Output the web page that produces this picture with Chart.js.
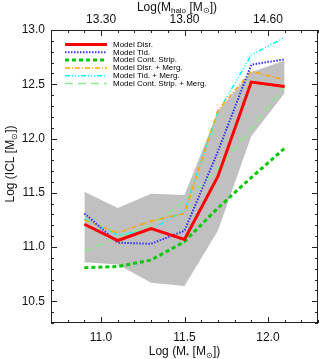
<!DOCTYPE html>
<html lang="en">
<head>
    <meta charset="UTF-8">
    <title>ICL vs stellar mass</title>
    <script src="https://cdn.jsdelivr.net/npm/chart.js"></script>
    <style>
        html, body { margin: 0; padding: 0; background: #fff; }
        #chart { display: block; }
    </style>
</head>
<body>
    <canvas id="chart" width="319" height="359"></canvas>

    <script>
        // values
        const massBins = [10.9, 11.1, 11.3, 11.5, 11.7, 11.9, 12.1];
        const bandUpper = [11.51, 11.36, 11.49, 11.48, 12.25, 12.61, 12.72];
        const bandLower = [10.86, 10.84, 10.67, 10.64, 11.15, 12.02, 12.42];
        const modelDisr = [11.21, 11.06, 11.17, 11.07, 11.65, 12.52, 12.48];
        const modelTid = [11.31, 11.04, 11.03, 11.15, 11.88, 12.68, 12.73];
        const modelContStrip = [10.81, 10.82, 10.88, 11.05, 11.36, 11.64, 11.91];
        const modelDisrMerg = [11.25, 11.13, 11.24, 11.31, 12.26, 12.62, 12.54];
        const modelTidMerg = [11.26, 11.11, 11.16, 11.34, 12.24, 12.77, 12.93];
        const modelContStripMerg = [10.96, 11.09, 11.20, 11.42, 11.72, 12.09, 12.48];

        const xTicks = [11.0, 11.5, 12.0];
        const topTickLabels = ['13.30', '13.80', '14.60'];
        const yTicks = [10.5, 11.0, 11.5, 12.0, 12.5, 13.0];

        const FONT = '"Liberation Sans", Arial, sans-serif';

        function pts(values) {
            return massBins.map((x, i) => ({ x: x, y: values[i] }));
        }

        function line(label, values, color, width, dash) {
            return {
                label: label,
                data: pts(values),
                borderColor: color,
                borderWidth: width,
                borderDash: dash,
                pointRadius: 0,
                tension: 0,
                fill: false,
                order: 1
            };
        }

        // draws text pieces, some of them as subscripts
        function drawRich(ctx, parts, x, y, size) {
            const subSize = Math.round(size * 0.7);
            let total = 0;
            parts.forEach(p => {
                ctx.font = (p.sub ? subSize : size) + 'px ' + FONT;
                p.w = ctx.measureText(p.t).width;
                total += p.w;
            });
            let cx = x - total / 2;
            ctx.textAlign = 'left';
            ctx.textBaseline = 'middle';
            parts.forEach(p => {
                ctx.font = (p.sub ? subSize : size) + 'px ' + FONT;
                ctx.fillText(p.t, cx, p.sub ? y + size * 0.3 : y);
                cx += p.w;
            });
        }

        const framePlugin = {
            id: 'frame',
            afterDraw(chart) {
                const ctx = chart.ctx;
                const a = chart.chartArea;
                const xs = chart.scales.x;
                const ys = chart.scales.y;
                ctx.save();
                ctx.strokeStyle = '#222';
                ctx.lineWidth = 1;
                ctx.strokeRect(a.left + 0.5, a.top + 0.5, a.right - a.left - 1, a.bottom - a.top - 1);

                // inward minor / major ticks on all four sides
                ctx.beginPath();
                for (let k = 107; k <= 123; k++) {
                    const v = k / 10;
                    const px = Math.round(xs.getPixelForValue(v)) + 0.5;
                    const len = (k % 5 === 0) ? 6 : 3;
                    ctx.moveTo(px, a.bottom); ctx.lineTo(px, a.bottom - len);
                    ctx.moveTo(px, a.top); ctx.lineTo(px, a.top + len);
                }
                for (let k = 103; k <= 130; k++) {
                    const v = k / 10;
                    const py = Math.round(ys.getPixelForValue(v)) + 0.5;
                    const len = (k % 5 === 0) ? 6 : 3;
                    ctx.moveTo(a.left, py); ctx.lineTo(a.left + len, py);
                    ctx.moveTo(a.right, py); ctx.lineTo(a.right - len, py);
                }
                ctx.stroke();

                // legend (line samples with the dataset styles)
                ctx.textAlign = 'left';
                ctx.textBaseline = 'middle';
                ctx.font = '8px ' + FONT;
                let row = 0;
                chart.data.datasets.forEach(ds => {
                    if (!ds.label) return;
                    const y = 44.5 + row * 7.8;
                    ctx.beginPath();
                    ctx.setLineDash(ds.borderDash || []);
                    ctx.strokeStyle = ds.borderColor;
                    ctx.lineWidth = ds.borderWidth;
                    ctx.moveTo(65, y);
                    ctx.lineTo(107, y);
                    ctx.stroke();
                    ctx.setLineDash([]);
                    ctx.fillStyle = '#000';
                    ctx.fillText(ds.label, 113, y);
                    row++;
                });

                // axis titles with subscripts
                ctx.fillStyle = '#111';
                drawRich(ctx, [{ t: 'Log (M' }, { t: '*', sub: true }, { t: ' [M' }, { t: '\u2299', sub: true }, { t: '])' }],
                    (a.left + a.right) / 2, 352, 12);
                drawRich(ctx, [{ t: 'Log(M' }, { t: 'halo', sub: true }, { t: ' [M' }, { t: '\u2299', sub: true }, { t: '])' }],
                    177, 7.5, 12);
                ctx.save();
                ctx.translate(11, 164);
                ctx.rotate(-Math.PI / 2);
                drawRich(ctx, [{ t: 'Log (ICL [M' }, { t: '\u2299', sub: true }, { t: '])' }], 0, 0, 12);
                ctx.restore();
                ctx.restore();
            }
        };

        const tickFont = { family: FONT, size: 12 };

        new Chart(document.getElementById('chart'), {
            type: 'line',
            data: {
                datasets: [
                    {
                        data: pts(bandUpper),
                        borderWidth: 0,
                        borderColor: 'rgba(0,0,0,0)',
                        backgroundColor: 'rgb(192,192,192)',
                        pointRadius: 0,
                        tension: 0,
                        fill: '+1',
                        order: 10
                    },
                    {
                        data: pts(bandLower),
                        borderWidth: 0,
                        borderColor: 'rgba(0,0,0,0)',
                        pointRadius: 0,
                        tension: 0,
                        fill: false,
                        order: 10
                    },
                    line('Model Disr.', modelDisr, 'rgb(255,0,0)', 3, []),
                    line('Model Tid.', modelTid, 'rgb(50,50,255)', 2, [1.5, 1.5]),
                    line('Model Cont. Strip.', modelContStrip, 'rgb(0,200,0)', 3, [4, 3]),
                    line('Model Disr. + Merg.', modelDisrMerg, 'rgb(255,165,0)', 1.5, [5, 2, 1, 2]),
                    line('Model Tid. + Merg.', modelTidMerg, 'rgb(0,255,255)', 1.5, [5, 2, 1, 2, 1, 2, 1, 2]),
                    line('Model Cont. Strip. + Merg.', modelContStripMerg, 'rgb(140,235,140)', 1.5, [8, 5])
                ]
            },
            options: {
                responsive: false,
                animation: false,
                layout: { padding: { left: 0, right: 1, top: 0, bottom: 0 } },
                plugins: {
                    legend: { display: false },
                    tooltip: { enabled: false }
                },
                scales: {
                    x: {
                        type: 'linear',
                        position: 'bottom',
                        min: 10.7,
                        max: 12.3,
                        grid: { display: false, drawTicks: false },
                        border: { display: false },
                        afterBuildTicks: s => { s.ticks = xTicks.map(v => ({ value: v })); },
                        afterFit: s => { s.height = 36; },
                        ticks: { font: tickFont, color: '#111', padding: 7, maxRotation: 0, callback: v => v.toFixed(1) }
                    },
                    x2: {
                        type: 'linear',
                        position: 'top',
                        min: 10.7,
                        max: 12.3,
                        grid: { display: false, drawTicks: false },
                        border: { display: false },
                        afterBuildTicks: s => { s.ticks = xTicks.map(v => ({ value: v })); },
                        afterFit: s => { s.height = 30; },
                        ticks: { font: tickFont, color: '#111', padding: 3, maxRotation: 0, callback: (v, i) => topTickLabels[i] }
                    },
                    y: {
                        type: 'linear',
                        min: 10.3,
                        max: 13.0,
                        grid: { display: false, drawTicks: false },
                        border: { display: false },
                        afterBuildTicks: s => { s.ticks = yTicks.map(v => ({ value: v })); },
                        afterFit: s => { s.width = 51; },
                        ticks: { font: tickFont, color: '#111', padding: 6, callback: v => v.toFixed(1) }
                    }
                }
            },
            plugins: [framePlugin]
        });
    </script>
</body>
</html>
